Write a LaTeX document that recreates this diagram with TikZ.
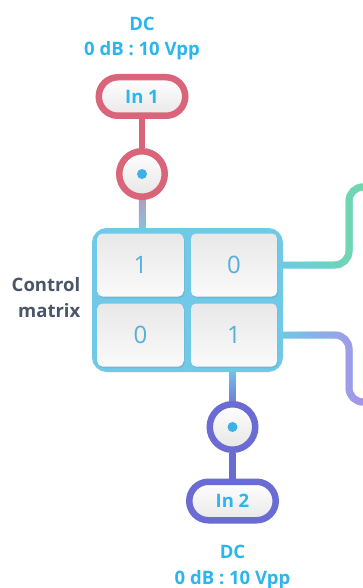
\documentclass[tikz,border=0pt]{standalone}
\usepackage{fontspec}
\setmainfont{Open Sans}
\usetikzlibrary{shadows,fadings,calc}
\pgfdeclarelayer{background}
\pgfdeclarelayer{canvas}
\pgfsetlayers{canvas,background,main}
\definecolor{lab}{HTML}{2CB5EE}
\definecolor{redb}{HTML}{DA6479}
\definecolor{mxb}{HTML}{6FC9E7}
\definecolor{purb}{HTML}{6A6BD3}
\definecolor{grn}{HTML}{6EDCA0}
\definecolor{vio}{HTML}{B08CE8}
\definecolor{num}{HTML}{56AEDA}
\definecolor{ctlc}{HTML}{4A5568}
\definecolor{dotb}{HTML}{3DB0E8}
\definecolor{stemA}{HTML}{B49CBA}
\definecolor{stemB}{HTML}{7FC6E6}
\definecolor{stemC}{HTML}{78C4EA}
\definecolor{stemD}{HTML}{6C7BD8}
\tikzfading[name=fadeE, left color=transparent!100, right color=transparent!0]
\begin{document}
\begin{tikzpicture}[x=1pt,y=-1pt,
  lbl/.style={text=lab, font=\fontsize{18.5}{22}\selectfont\bfseries, inner sep=0, anchor=base},
  pill/.style={draw=#1, line width=6.5pt, minimum width=86.5pt, minimum height=38.5pt,
    rounded corners=19.25pt, inner sep=0, top color=white, bottom color=black!9,
    drop shadow={opacity=0.18, shadow xshift=1pt, shadow yshift=-3pt},
    text=lab, font=\fontsize{18.5}{22}\selectfont\bfseries},
  port/.style={circle, draw=#1, line width=6.5pt, minimum size=45.5pt, inner sep=0,
    top color=white, bottom color=black!10,
    drop shadow={opacity=0.18, shadow xshift=1pt, shadow yshift=-3pt}},
  pdot/.style={circle, fill=dotb, minimum size=10pt, inner sep=0},
  mxbox/.style={draw=mxb, fill=mxb, line width=6pt, minimum width=185pt,
    minimum height=138pt, rounded corners=12pt, inner sep=0},
  cell/.style={minimum width=86pt, minimum height=63pt, rounded corners=5pt, inner sep=0,
    top color=black!9, bottom color=black!2,
    drop shadow={opacity=0.25, shadow xshift=1pt, shadow yshift=-1.5pt},
    text=num, font=\fontsize{24}{28}\selectfont},
  conn/.style={line width=7pt, rounded corners=14pt}
]
\begin{pgfonlayer}{canvas}
  \fill[white] (0,0) rectangle (363,588);
\end{pgfonlayer}
\useasboundingbox (0,0) rectangle (363,588);

% labels
\node[lbl] (dc1) at (142,31) {DC};
\node[lbl] (vp1) at (142,56) {0 dB : 10 Vpp};
\node[lbl] (dc2) at (232.5,558) {DC};
\node[lbl] (vp2) at (232.5,584) {0 dB : 10 Vpp};

% inputs
\node[pill=redb] (in1) at (142,96.5) {In 1};
\node[port=redb] (p1) at (142,174) {};
\node[pdot] (d1) at (p1) {};
\node[port=purb] (p2) at (232.5,427) {};
\node[pdot] (d2) at (p2) {};
\node[pill=purb] (in2) at (232.5,501) {In 2};

% matrix
\node[mxbox] (mx) at (187.5,300) {};
\node[cell] (c11) at (140.5,265) {1};
\node[cell] (c12) at (234,265) {0};
\node[cell] (c21) at (140.5,335) {0};
\node[cell] (c22) at (234,335) {1};
\node[anchor=east, align=right, text=ctlc, inner sep=0,
  font=\fontsize{18.5}{26}\selectfont\bfseries] (ctl) at (80.5,298) {Control\\matrix};

% free ends of outputs
\coordinate (g0) at (349,187);
\coordinate (g1) at (372,187);
\coordinate (v0) at (349,402);
\coordinate (v1) at (372,402);

\begin{pgfonlayer}{background}
  \draw[redb, line width=6.5pt] (in1.south) -- (p1.north);
  \shade[top color=stemA, bottom color=stemB]
    ($(p1.south)+(-3.25,-3)$) rectangle ($(p1.south |- mx.north)+(3.25,4)$);
  \shade[top color=stemC, bottom color=stemD]
    ($(mx.south -| p2)+(-3.25,-4)$) rectangle ($(p2.north)+(3.25,3)$);
  \draw[purb, line width=6.5pt] (p2.south) -- (in2.north);
  \draw[conn, mxb] (mx.east |- c12) -| (g0) -- (g1);
  \draw[conn, grn, path fading=fadeE] (mx.east |- c12) -| (g0) -- (g1);
  \draw[conn, mxb] (mx.east |- c22) -| (v0) -- (v1);
  \draw[conn, vio, path fading=fadeE] (mx.east |- c22) -| (v0) -- (v1);
\end{pgfonlayer}
\end{tikzpicture}
\end{document}
